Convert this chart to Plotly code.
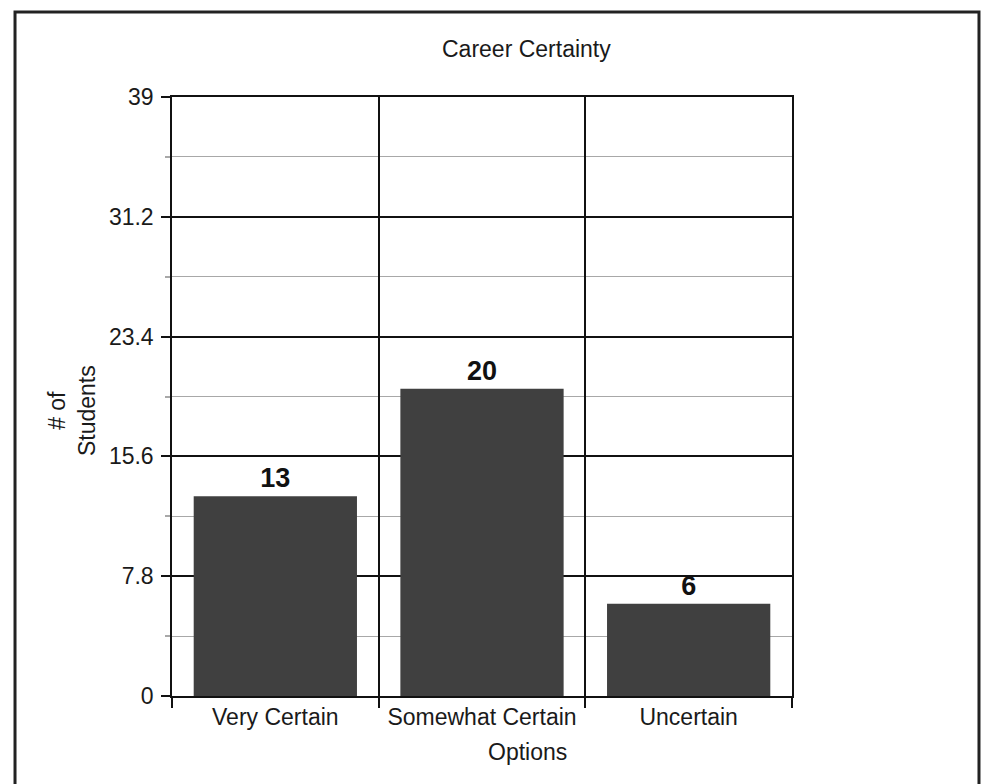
import plotly.graph_objects as go

categories = ["Very Certain", "Somewhat Certain", "Uncertain"]
students = [13, 20, 6]
y_tick_vals = [0, 7.8, 15.6, 23.4, 31.2, 39]
y_tick_text = ["0", "7.8", "15.6", "23.4", "31.2", "39"]
title_text = "Career Certainty"
x_title = "Options"
y_title = "# of<br>Students"

FONT = "Liberation Sans, Arial, sans-serif"
FS = 23

fig = go.Figure(go.Bar(
    x=categories,
    y=students,
    marker=dict(color="#404040", line=dict(width=0)),
    texttemplate="<b>%{y}</b>",
    textposition="outside",
    textfont=dict(family=FONT, size=27, color="#111111"),
    cliponaxis=False,
))

fig.update_layout(
    width=991, height=784,
    margin=dict(l=164, r=207, t=89, b=96, autoexpand=False),
    paper_bgcolor="white", plot_bgcolor="white",
    bargap=0.21,
    showlegend=False,
    font=dict(family=FONT, size=FS, color="#1a1a1a"),
)

fig.update_xaxes(
    type="category",
    tickson="boundaries",
    showgrid=True, gridcolor="#111111", gridwidth=1.5,
    showline=True, linecolor="#111111", linewidth=1.5, mirror=True,
    ticks="outside", ticklen=10, tickcolor="#111111", tickwidth=1.5,
    tickfont=dict(size=FS, family=FONT, color="#1a1a1a"),
)

fig.update_yaxes(
    range=[0, 39],
    tickmode="array", tickvals=y_tick_vals, ticktext=y_tick_text,
    showgrid=True, gridcolor="#111111", gridwidth=1.5,
    showline=True, linecolor="#111111", linewidth=1.5, mirror=True,
    ticks="outside", ticklen=9, tickcolor="#111111", tickwidth=1.5,
    tickfont=dict(size=FS, family=FONT, color="#1a1a1a"),
    ticklabelstandoff=3,
    zeroline=False,
    minor=dict(dtick=3.9, tick0=0, showgrid=True, gridcolor="#a8a8a8", gridwidth=1,
               ticks="outside", ticklen=5, tickcolor="#a8a8a8"),
)

# outer frame
fig.add_shape(type="rect", xref="paper", yref="paper",
              x0=-0.2532, x1=1.3016, y0=-0.16, y1=1.1419,
              line=dict(color="#222222", width=3), fillcolor="rgba(0,0,0,0)", layer="above")

fig.add_annotation(text=title_text, xref="paper", yref="paper", x=0.571, y=1.080,
                   showarrow=False, font=dict(size=FS, family=FONT, color="#1a1a1a"),
                   xanchor="center", yanchor="middle")
fig.add_annotation(text=x_title, xref="paper", yref="paper", x=0.5726, y=-0.0935,
                   showarrow=False, font=dict(size=FS, family=FONT, color="#1a1a1a"),
                   xanchor="center", yanchor="middle")
fig.add_annotation(text=y_title, xref="paper", yref="paper", x=-0.161, y=0.476,
                   showarrow=False, textangle=-90, font=dict(size=FS, family=FONT, color="#1a1a1a"),
                   xanchor="center", yanchor="middle")

fig.write_html("out.html")
